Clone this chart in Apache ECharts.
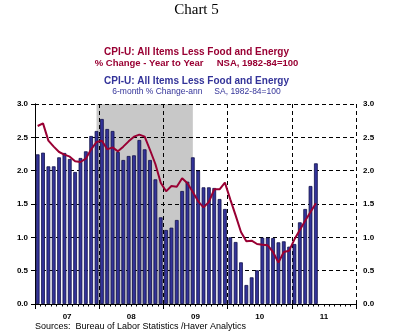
<!DOCTYPE html>
<html>
<head>
<meta charset="utf-8">
<script src="https://cdn.jsdelivr.net/npm/echarts@6/dist/echarts.min.js"></script>
<style>
html,body{margin:0;padding:0;background:#fff;}
#chart{width:393px;height:335px;}
</style>
</head>
<body>
<div id="chart"></div>
<script>
// ---- data ----
var monthNames = ['Jan','Feb','Mar','Apr','May','Jun','Jul','Aug','Sep','Oct','Nov','Dec'];
var years = ['07','08','09','10','11'];
var yearLabels = ['07','08','09','10','11'];
var months = [];
years.forEach(function(y){ monthNames.forEach(function(m){ months.push(m + ' ' + y); }); });

// 6-month % change, annualized (bars), Jan 2007 - May 2011
var sixMonthAnn = [
  2.245, 2.27, 2.065, 2.065, 2.2, 2.265, 2.175, 1.98, 2.19, 2.29, 2.52, 2.595,
  2.775, 2.625, 2.595, 2.28, 2.16, 2.22, 2.23, 2.46, 2.32, 2.16, 1.87, 1.30,
  1.11, 1.145, 1.26, 1.695, 1.835, 2.2, 2.0, 1.75, 1.75, 1.74, 1.575, 1.425,
  1.0, 0.93, 0.625, 0.285, 0.4, 0.505, 0.995, 0.995, 0.99, 0.925, 0.94, 0.86,
  0.9, 1.225, 1.425, 1.77, 2.11
];
// % change year to year (line), Jan 2007 - May 2011
var yearToYear = [
  2.67, 2.71, 2.45, 2.36, 2.28, 2.24, 2.21, 2.14, 2.13, 2.18, 2.32, 2.43,
  2.45, 2.32, 2.35, 2.29, 2.36, 2.44, 2.51, 2.54, 2.51, 2.31, 2.10, 1.82,
  1.69, 1.77, 1.76, 1.885, 1.81, 1.68, 1.54, 1.45, 1.53, 1.72, 1.72, 1.82,
  1.57, 1.33, 1.08, 0.94, 0.95, 0.90, 0.89, 0.88, 0.78, 0.62, 0.78, 0.80,
  0.97, 1.11, 1.25, 1.38, 1.51
];
var recessionStart = 'Dec 07';
var recessionEnd = 'Jun 09';

// ---- chart ----
var RED = '#990033', BLUE = '#333399';
var SANS = '"Liberation Sans", Arial, sans-serif';
var chart = echarts.init(document.getElementById('chart'), null, {renderer:'canvas'});
var dash = [4, 3];
var yLabel = {fontFamily: SANS, fontSize: 8, fontWeight: 'bold', color: '#000', margin: 7,
  formatter: function(v){ return v.toFixed(1); }};
// month centre on the 0..60 month scale
function monthPos(label){ return months.indexOf(label) + 0.5; }

chart.setOption({
  animation: false,
  backgroundColor: '#fff',
  graphic: [
    {type:'text', left:'center', top: 3, style:{text:'Chart 5', font:'15px "Liberation Serif", "Times New Roman", serif', fill:'#000'}},
    {type:'text', left:'center', top: 47, style:{text:'CPI-U: All Items Less Food and Energy', font:'bold 10px ' + SANS, fill:RED}},
    {type:'text', left:'center', top: 58, style:{text:'% Change - Year to Year     NSA, 1982-84=100', font:'bold 9.5px ' + SANS, fill:RED}},
    {type:'text', left:'center', top: 76, style:{text:'CPI-U: All Items Less Food and Energy', font:'bold 10px ' + SANS, fill:BLUE}},
    {type:'text', left:'center', top: 87, style:{text:'6-month % Change-ann     SA, 1982-84=100', font:'8.5px ' + SANS, fill:BLUE}},
    {type:'text', left: 35, top: 322, style:{text:'Sources:  Bureau of Labor Statistics /Haver Analytics', font:'9px ' + SANS, fill:'#000'}}
  ],
  grid: {left: 35, right: 37, top: 104, bottom: 31, containLabel: false},
  xAxis: [
    {type:'category', data: months, boundaryGap: true, position:'bottom', z: 1,
     axisLine:{show:true, lineStyle:{color:'#000', width:1}},
     axisTick:{show:false}, axisLabel:{show:false}, splitLine:{show:false}},
    {type:'value', min:0, max:60, interval:12, position:'bottom', z: 1,
     axisLine:{show:false},
     axisTick:{show:true, length:5, lineStyle:{color:'#000'}},
     minorTick:{show:true, splitNumber:12, length:2.5, lineStyle:{color:'#000'}},
     axisLabel:{show:false},
     splitLine:{show:true, lineStyle:{color:'#000', type:dash, width:1}}},
    {type:'value', min:0, max:60, interval:6, position:'bottom', z: 1,
     axisLine:{show:false}, axisTick:{show:false}, splitLine:{show:false},
     axisLabel:{show:true, margin:9, fontFamily:SANS, fontSize:8, fontWeight:'bold', color:'#000',
       formatter:function(v){ return (v % 12 === 6) ? yearLabels[(v-6)/12] : ''; }}}
  ],
  yAxis: [
    {type:'value', position:'left', min:0, max:3, interval:0.5, z: 1,
     axisLine:{show:true, lineStyle:{color:'#000', type:dash}},
     axisTick:{show:true, length:4, lineStyle:{color:'#000'}},
     axisLabel: yLabel,
     splitLine:{show:true, lineStyle:{color:'#000', type:dash, width:1}}},
    {type:'value', position:'right', min:0, max:3, interval:0.5, z: 1,
     axisLine:{show:true, lineStyle:{color:'#000'}},
     axisTick:{show:true, length:4, lineStyle:{color:'#000'}},
     axisLabel: yLabel,
     splitLine:{show:false}}
  ],
  series: [
    {type:'line', name:'Recession', xAxisIndex:1, yAxisIndex:0, data: [], silent:true,
     markArea:{silent:true, z:0, itemStyle:{color:'#c8c8c8'},
       data:[[{xAxis: monthPos(recessionStart)},{xAxis: monthPos(recessionEnd)}]]}},
    {type:'bar', name:'6-month % Change-ann', xAxisIndex:0, yAxisIndex:0, data: sixMonthAnn,
     barWidth:'70%', z: 2,
     itemStyle:{color:BLUE, borderColor:'#10104a', borderWidth:0.8}},
    {type:'line', name:'% Change - Year to Year', xAxisIndex:0, yAxisIndex:0, data: yearToYear,
     symbol:'none', z: 3, lineStyle:{color:RED, width:2}, itemStyle:{color:RED}}
  ]
});
</script>
</body>
</html>
